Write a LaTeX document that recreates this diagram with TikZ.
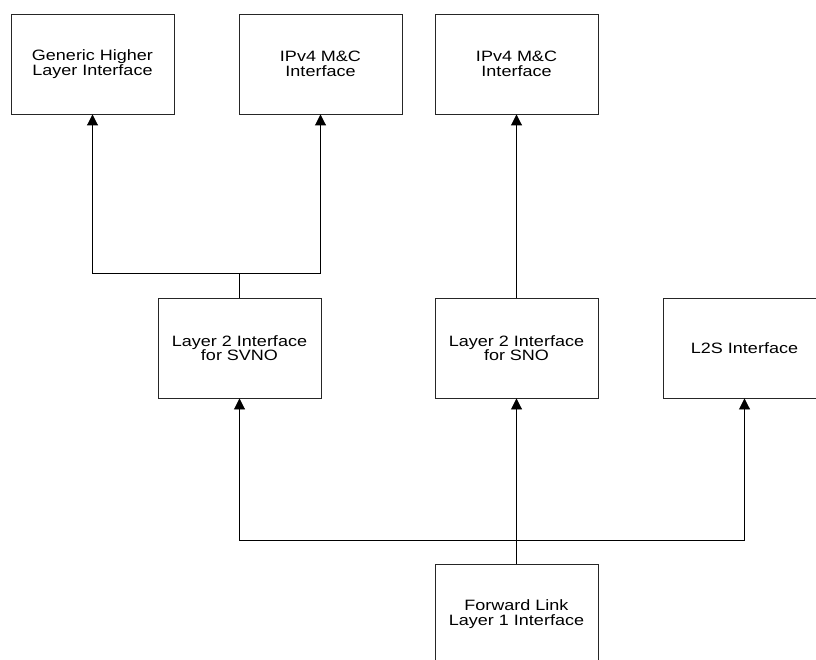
\documentclass[tikz,border=0pt]{standalone}
\usepackage{fontspec}
\newfontfamily\boxfont[FakeStretch=1.2]{Liberation Sans}
\usetikzlibrary{arrows.meta}
\tikzset{
  blk/.style={draw=black!85, line width=0.9pt, minimum width=163pt, minimum height=100pt,
    inner sep=0pt, align=center, font=\boxfont\fontsize{15}{14.5}\selectfont, text=black},
  link/.style={draw=black, line width=0.9pt},
  arr/.style={link, -{Triangle[length=11pt,width=11pt]}}
}
\begin{document}
\begin{tikzpicture}[x=1pt,y=-1pt]
\useasboundingbox (0,0) rectangle (816,660);
\clip (0,0) rectangle (816,660);
\fill[white] (0,0) rectangle (816,660);
\node[blk] (gen) at (92.5,64) {Generic Higher\\Layer Interface};
\node[blk] (ipa) at (320.5,64) {IPv4 M\&C\\Interface};
\node[blk] (ipb) at (516.5,64) {IPv4 M\&C\\Interface};
\node[blk] (svno) at (239.5,348) {Layer 2 Interface\\for SVNO};
\node[blk] (sno) at (516.5,348) {Layer 2 Interface\\for SNO};
\node[blk] (l2s) at (744.5,348) {L2S Interface};
\node[blk] (fwd) at (516.5,614) {Forward Link\\Layer 1 Interface};
\coordinate (j1) at (239.5,273);
\coordinate (j2) at (516.5,540);
\draw[link] (svno.north) -- (j1);
\draw[arr] (j1) -| (gen.south);
\draw[arr] (j1) -| (ipa.south);
\draw[arr] (sno.north) -- (ipb.south);
\draw[link] (fwd.north) -- (j2);
\draw[arr] (j2) -| (svno.south);
\draw[arr] (j2) -- (sno.south);
\draw[arr] (j2) -| (l2s.south);
\end{tikzpicture}
\end{document}
